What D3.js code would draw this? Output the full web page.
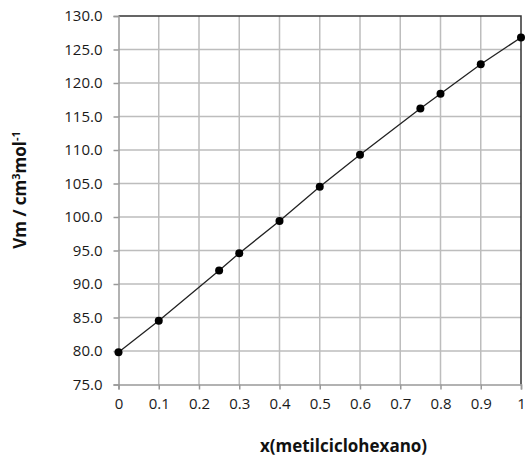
<!DOCTYPE html>
<html lang="es">
  <head>
    <meta charset="UTF-8" />
    <title>Vm vs x(metilciclohexano)</title>
    <script src="https://d3js.org/d3.v7.min.js"></script>
    <style>
      body {
        margin: 0;
        background: #fff;
        font-family: "Open Sans", sans-serif;
      }
      .tick text {
        font-size: 15px;
        fill: #1a1a1a;
      }
      .axis-title {
        font-size: 17px;
        font-weight: bold;
        fill: #111;
      }
    </style>
  </head>
  <body>
    <svg id="chart" width="528" height="457"></svg>
    <script>
      // fraccion molar de metilciclohexano y volumen molar
      const xValues = [0, 0.1, 0.25, 0.3, 0.4, 0.5, 0.6, 0.75, 0.8, 0.9, 1];
      const vmValues = [79.8, 84.5, 92.0, 94.6, 99.4, 104.5, 109.3, 116.2, 118.4, 122.8, 126.8];
      const xTicks = [0, 0.1, 0.2, 0.3, 0.4, 0.5, 0.6, 0.7, 0.8, 0.9, 1];
      const yTicks = [75, 80, 85, 90, 95, 100, 105, 110, 115, 120, 125, 130];

      const width = 528;
      const height = 457;
      const margin = { top: 16, right: 7, bottom: 72.5, left: 118.5 };

      const svg = d3.select("#chart");

      const x = d3.scaleLinear().domain([0, 1]).range([margin.left, width - margin.right]);
      const y = d3.scaleLinear().domain([75, 130]).range([height - margin.bottom, margin.top]);

      // grid
      svg.append("g")
        .selectAll("line")
        .data(xTicks.slice(1, -1))
        .join("line")
        .attr("x1", (d) => x(d))
        .attr("x2", (d) => x(d))
        .attr("y1", y(75))
        .attr("y2", y(130))
        .attr("stroke", "#bdbdbd")
        .attr("stroke-width", 1.5);

      svg.append("g")
        .selectAll("line")
        .data(yTicks.slice(1, -1))
        .join("line")
        .attr("x1", x(0))
        .attr("x2", x(1))
        .attr("y1", (d) => y(d))
        .attr("y2", (d) => y(d))
        .attr("stroke", "#bdbdbd")
        .attr("stroke-width", 1.5);

      // plot frame top / right
      svg.append("path")
        .attr("d", `M${x(0)},${y(130)}H${x(1)}V${y(75)}`)
        .attr("fill", "none")
        .attr("stroke", "#333")
        .attr("stroke-width", 1.5);

      const xAxis = d3.axisBottom(x).tickValues(xTicks).tickSize(5).tickPadding(9)
        .tickFormat((d) => (d === 0 || d === 1 ? d3.format("d")(d) : d3.format(".1f")(d)));
      const yAxis = d3.axisLeft(y).tickValues(yTicks).tickSize(5).tickPadding(11)
        .tickFormat(d3.format(".1f"));

      const gx = svg.append("g")
        .attr("transform", `translate(0,${y(75)})`)
        .call(xAxis);
      const gy = svg.append("g")
        .attr("transform", `translate(${x(0)},0)`)
        .call(yAxis);

      [gx, gy].forEach((g) => {
        g.select(".domain").attr("stroke", "#999").attr("stroke-width", 1.5);
        g.selectAll(".tick line").attr("stroke", "#999").attr("stroke-width", 1.5);
        g.selectAll(".tick text").attr("font-family", "Open Sans, sans-serif");
      });

      // data line and markers
      const pts = xValues.map((v, i) => [v, vmValues[i]]);
      const line = d3.line().x((d) => x(d[0])).y((d) => y(d[1]));

      svg.append("path")
        .datum(pts)
        .attr("d", line)
        .attr("fill", "none")
        .attr("stroke", "#222")
        .attr("stroke-width", 1.3);

      svg.append("g")
        .selectAll("circle")
        .data(pts)
        .join("circle")
        .attr("cx", (d) => x(d[0]))
        .attr("cy", (d) => y(d[1]))
        .attr("r", 4)
        .attr("fill", "#000");

      // titles
      svg.append("text")
        .attr("class", "axis-title")
        .attr("x", 343.5)
        .attr("y", 452)
        .attr("text-anchor", "middle")
        .text("x(metilciclohexano)");

      const yt = svg.append("text")
        .attr("class", "axis-title")
        .attr("text-anchor", "middle")
        .attr("transform", "translate(26,190) rotate(-90)");
      yt.append("tspan").text("Vm / cm");
      yt.append("tspan").attr("dy", -6).attr("font-size", 11).text("3");
      yt.append("tspan").attr("dy", 6).text("mol");
      yt.append("tspan").attr("dy", -6).attr("font-size", 11).text("-1");
    </script>
  </body>
</html>
